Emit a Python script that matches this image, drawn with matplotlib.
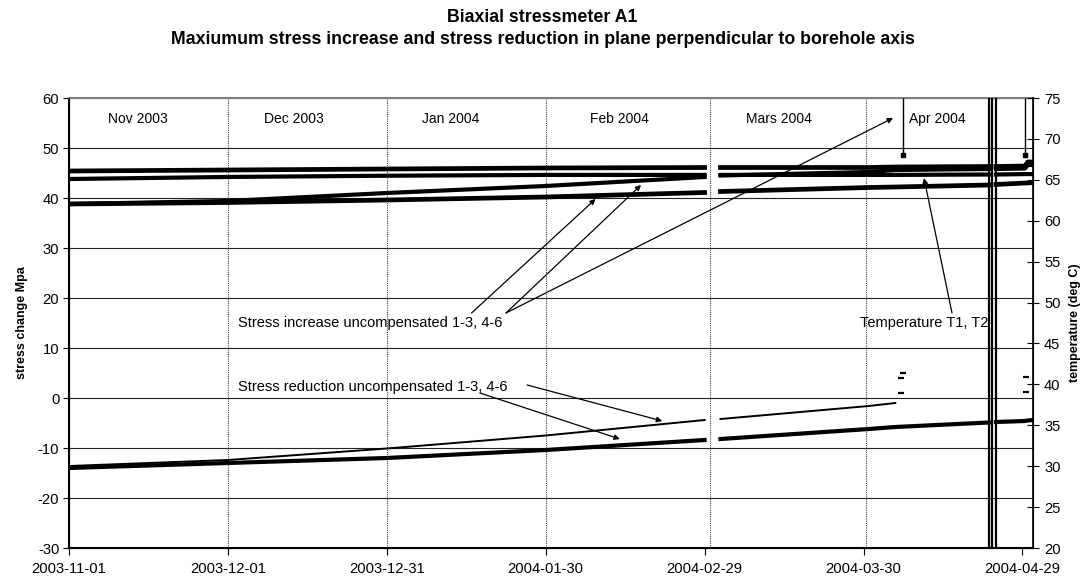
import numpy as np
import pandas as pd
import matplotlib
matplotlib.use("Agg")
import matplotlib.pyplot as plt
import matplotlib.dates as mdates

plt.rcParams['font.family'] = ['Liberation Sans', 'DejaVu Sans']
plt.rcParams['axes.unicode_minus'] = False


def to_dates(items):
    return pd.to_datetime(items, format="mixed")


# ---- data -------------------------------------------------------------
nan = np.nan
dates = to_dates([
    "2003-11-01", "2003-12-01", "2003-12-31", "2004-01-30", "2004-02-29",
    "2004-03-01", "2004-03-03", "2004-03-31", "2004-04-05", "2004-04-22 16:00",
    "2004-04-23", "2004-04-24", "2004-04-29 12:00", "2004-04-30", "2004-05-01",
])

# stress increase (MPa, left axis)
increase_upper = [45.4, 45.6, 45.8, 46.0, 46.1, nan, 46.1, 46.1, 46.2, 46.3, nan, 46.3, 46.4, 47.2, 47.2]
increase_rising = [38.8, 39.4, 41.0, 42.4, 44.2, nan, 44.5, 45.2, 45.6, 45.8, nan, 45.8, 45.9, 46.6, 46.6]
increase_lower = [38.8, 39.1, 39.6, 40.2, 41.1, nan, 41.3, 42.1, 42.2, 42.6, nan, 42.7, 43.0, 43.0, 43.1]

# stress reduction (MPa, left axis)
reduction_thin = [-13.6, -12.4, -10.1, -7.5, -4.4, nan, -4.2, -1.6, -1.0, nan, nan, nan, nan, nan, nan]
reduction_thick = [-14.0, -13.0, -12.0, -10.4, -8.4, nan, -8.2, -6.2, -5.8, -4.9, nan, -4.8, -4.6, -4.5, -4.4]

# temperature T1, T2 (deg C, right axis)
temperature = [65.1, 65.35, 65.5, 65.6, 65.6, nan, 65.6, 65.6, 65.6, 65.65, nan, 65.65, 65.7, 65.7, 65.7]

# readings that go off scale
spike_dates = to_dates(["2004-04-06 11:00", "2004-04-29 12:00"])
spike_base = [48.6, 48.6]
offscale_dates = to_dates(["2004-04-22 16:00", "2004-04-23 06:00", "2004-04-24 00:00"])

# isolated reduction readings
stray_dates = to_dates(["2004-04-06 11:00", "2004-04-06 02:00", "2004-04-06 02:00",
                        "2004-04-29 16:00", "2004-04-29 16:00"])
stray_values = [5.0, 4.0, 1.0, 4.2, 1.2]

# month separators and labels
month_lines = to_dates(["2003-12-01", "2003-12-31", "2004-01-30", "2004-03-01", "2004-03-30 12:00"])
month_label_dates = to_dates(["2003-11-14", "2003-12-13 12:00", "2004-01-12",
                              "2004-02-13", "2004-03-14", "2004-04-13"])
month_labels = ["Nov 2003", "Dec 2003", "Jan 2004", "Feb 2004", "Mars 2004", "Apr 2004"]

x_tick_dates = to_dates(["2003-11-01", "2003-12-01", "2003-12-31", "2004-01-30",
                         "2004-02-29", "2004-03-30", "2004-04-29"])
x_tick_labels = ["2003-11-01", "2003-12-01", "2003-12-31", "2004-01-30",
                 "2004-02-29", "2004-03-30", "2004-04-29"]
stress_ticks = list(range(-30, 61, 10))
temp_ticks = list(range(20, 76, 5))

# ---- figure -----------------------------------------------------------
fig = plt.figure(figsize=(10.85, 5.8), dpi=100)
ax = fig.add_axes([69 / 1085, 32 / 580, 964 / 1085, 450 / 580])
ax.set_xlim(pd.Timestamp("2003-11-01"), pd.Timestamp("2004-05-01"))
ax.set_ylim(-30, 60)

for v in stress_ticks:
    ax.axhline(v, color="#222222", lw=0.8, zorder=1)
for d in month_lines:
    ax.axvline(d, color="#444444", lw=0.8, ls=(0, (1, 1)), zorder=1)

ax.plot(dates, increase_upper, color="black", lw=3.4, zorder=3)
ax.plot(dates, increase_rising, color="black", lw=3.0, zorder=3)
ax.plot(dates, increase_lower, color="black", lw=3.4, zorder=3)
ax.plot(dates, reduction_thick, color="black", lw=3.0, zorder=3)
ax.plot(dates, reduction_thin, color="black", lw=1.4, zorder=3)

ax.vlines(spike_dates, spike_base, 60, color="black", lw=1.0, zorder=3)
ax.plot(spike_dates, spike_base, "s", color="black", ms=3, zorder=3)
ax.vlines(offscale_dates, -30, 60, color="black", lw=1.6, zorder=4)
ax.plot(stray_dates, stray_values, "_", color="black", ms=4, mew=1.6, zorder=3)

for d, lab in zip(month_label_dates, month_labels):
    ax.text(d, 55.8, lab, ha="center", va="center", fontsize=10)

ax.set_xticks(x_tick_dates)
ax.set_xticklabels(x_tick_labels)
ax.set_yticks(stress_ticks)
ax.tick_params(axis="x", direction="out", length=5, labelsize=10.6, pad=5)
ax.tick_params(axis="y", direction="out", length=4, labelsize=10.6, pad=3)
ax.set_ylabel("stress change Mpa", fontsize=9, fontweight="bold", labelpad=7)
for s in ["left", "bottom"]:
    ax.spines[s].set_linewidth(1.5)
ax.spines["top"].set_color("#808080")
ax.spines["top"].set_linewidth(1.5)

# temperature axis
ax2 = ax.twinx()
ax2.set_ylim(20, 75)
ax2.plot(dates, temperature, color="black", lw=3.0, zorder=3)
ax2.set_yticks(temp_ticks)
ax2.tick_params(axis="y", direction="inout", length=8, labelsize=10.6, pad=4)
ax2.set_ylabel("temperature (deg C)", fontsize=9, fontweight="bold", labelpad=6)
ax2.spines["right"].set_linewidth(1.2)
ax2.spines["top"].set_visible(False)

# annotations
arrow = dict(arrowstyle="-|>", lw=0.9, color="black", mutation_scale=8, shrinkA=0, shrinkB=0)


def T(s):
    return mdates.date2num(pd.Timestamp(s))


ax.text(T("2003-12-03"), 15, "Stress increase uncompensated 1-3, 4-6", ha="left", va="center", fontsize=10.5)
ax.annotate("", xy=(T("2004-02-08 10:00"), 39.8), xytext=(T("2004-01-16"), 17), arrowprops=arrow)
ax.annotate("", xy=(T("2004-02-17"), 42.6), xytext=(T("2004-01-22 12:00"), 17), arrowprops=arrow)
ax.annotate("", xy=(T("2004-04-04 14:00"), 56), xytext=(T("2004-01-22 12:00"), 17), arrowprops=arrow)

ax.text(T("2003-12-03"), 2.2, "Stress reduction uncompensated 1-3, 4-6", ha="left", va="center", fontsize=10.5)
ax.annotate("", xy=(T("2004-02-13"), -8.2), xytext=(T("2004-01-17 14:00"), 1.0), arrowprops=arrow)
ax.annotate("", xy=(T("2004-02-21"), -4.6), xytext=(T("2004-01-26 12:00"), 2.6), arrowprops=arrow)

ax.text(T("2004-03-29 07:00"), 15, "Temperature T1, T2", ha="left", va="center", fontsize=10.5, zorder=5)
ax.annotate("", xy=(T("2004-04-10 10:00"), 44), xytext=(T("2004-04-15 17:00"), 17), arrowprops=arrow)

fig.text(0.5, 1 - 17 / 580, "Biaxial stressmeter A1", ha="center", va="center",
         fontsize=12.8, fontweight="bold")
fig.text(0.5, 1 - 40 / 580,
         "Maxiumum stress increase and stress reduction in plane perpendicular to borehole axis",
         ha="center", va="center", fontsize=12.8, fontweight="bold")

fig.savefig("out.png", dpi=100)
